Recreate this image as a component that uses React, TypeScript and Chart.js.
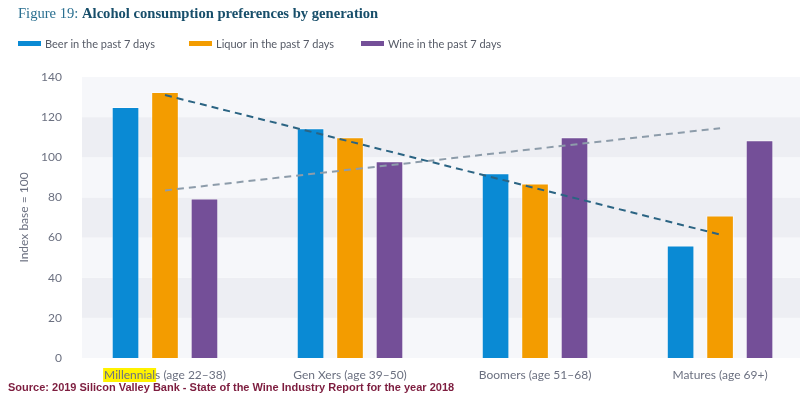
import React, { useEffect, useRef } from "react";
import { Chart, registerables } from "chart.js";

Chart.register(...registerables);

const categories = [
  "Millennials (age 22–38)",
  "Gen Xers (age 39–50)",
  "Boomers (age 51–68)",
  "Matures (age 69+)",
];
const beer = [125, 114.5, 92, 56];
const liquor = [132.5, 110, 87, 71];
const wine = [79.5, 98, 110, 108.5];
const beerTrend = [131, 61.5];
const wineTrend = [83.5, 114.5];
const trendX = [0, 3];
const yTicks = [0, 20, 40, 60, 80, 100, 120, 140];
const seriesNames = ["Beer in the past 7 days", "Liquor in the past 7 days", "Wine in the past 7 days"];
const seriesColors = ["#0a8ad4", "#f39c00", "#744f98"];

const AREA_LEFT = 82;
const AREA_TOP = 77;
const AREA_BOTTOM = 358;
const LABEL_FONT = "12px Lato, 'Open Sans', sans-serif";

const decorPlugin = {
  id: "decor",
  beforeDraw(chart: any) {
    const { ctx, chartArea } = chart;
    const y = chart.scales.y;
    ctx.save();
    // alternating bands
    for (let i = 0; i < yTicks.length - 1; i++) {
      const y0 = y.getPixelForValue(yTicks[i]);
      const y1 = y.getPixelForValue(yTicks[i + 1]);
      ctx.fillStyle = i % 2 === 0 ? "#f6f7fa" : "#edeef3";
      ctx.fillRect(chartArea.left, y1, chartArea.right - chartArea.left, y0 - y1);
    }
    // highlight behind "Millennial"
    const x = chart.scales.x;
    ctx.font = LABEL_FONT;
    const full = ctx.measureText(categories[0]).width;
    const part = ctx.measureText("Millennial").width;
    const cx = x.getPixelForValue(0);
    const sx = cx - full / 2;
    ctx.fillStyle = "#fff200";
    ctx.fillRect(sx - 1, 368, part + 2, 14);
    ctx.restore();
  },
  afterDraw(chart: any) {
    const { ctx } = chart;
    ctx.save();
    // title
    ctx.textBaseline = "middle";
    ctx.textAlign = "left";
    ctx.font = "14.6px 'Liberation Serif', serif";
    ctx.fillStyle = "#2a6f90";
    const t1 = "Figure 19: ";
    ctx.fillText(t1, 18, 14);
    const w1 = ctx.measureText(t1).width;
    ctx.font = "bold 14.6px 'Liberation Serif', serif";
    ctx.fillStyle = "#174e6a";
    ctx.fillText("Alcohol consumption preferences by generation", 18 + w1, 14);
    // legend
    const lx = [18, 189, 361];
    ctx.font = "11px Lato, 'Open Sans', sans-serif";
    for (let i = 0; i < 3; i++) {
      ctx.fillStyle = seriesColors[i];
      ctx.fillRect(lx[i], 41, 23, 5);
      ctx.fillStyle = "#555a66";
      ctx.fillText(seriesNames[i], lx[i] + 27, 44);
    }
    // source
    ctx.font = "bold 11px 'Liberation Sans', Arial, sans-serif";
    ctx.fillStyle = "#7d1d3f";
    ctx.fillText("Source: 2019 Silicon Valley Bank - State of the Wine Industry Report for the year 2018", 8, 388);
    ctx.restore();
  },
};

export default function App() {
  const ref = useRef<HTMLCanvasElement | null>(null);
  useEffect(() => {
    if (!ref.current) return;
    const barDs = (label: string, vals: number[], color: string) => ({
      type: "bar" as const,
      label,
      data: vals.map((v, i) => ({ x: i, y: v })),
      backgroundColor: color,
      borderColor: "rgba(255,255,255,0.55)",
      borderWidth: 1,
      categoryPercentage: 0.64,
      barPercentage: 0.7,
      order: 2,
    });
    const chart = new Chart(ref.current, {
      type: "bar",
      data: {
        datasets: [
          barDs(seriesNames[0], beer, seriesColors[0]),
          barDs(seriesNames[1], liquor, seriesColors[1]),
          barDs(seriesNames[2], wine, seriesColors[2]),
          {
            type: "line",
            label: "Beer trend",
            data: trendX.map((x, i) => ({ x, y: beerTrend[i] })),
            borderColor: "#2b6483",
            borderWidth: 2,
            borderDash: [7, 5],
            pointRadius: 0,
            fill: false,
            order: 1,
          },
          {
            type: "line",
            label: "Wine trend",
            data: trendX.map((x, i) => ({ x, y: wineTrend[i] })),
            borderColor: "#8d9caa",
            borderWidth: 2,
            borderDash: [7, 5],
            pointRadius: 0,
            fill: false,
            order: 1,
          },
        ] as any,
      },
      options: {
        animation: false,
        responsive: true,
        maintainAspectRatio: false,
        layout: { padding: { top: AREA_TOP, left: 0, right: 0, bottom: 0 } },
        plugins: {
          legend: { display: false },
          title: { display: false },
          tooltip: { enabled: false },
        },
        scales: {
          x: {
            type: "linear",
            offset: false,
            min: -0.4486,
            max: 3.432,
            grid: { display: false, drawTicks: false },
            border: { display: false },
            afterBuildTicks(scale: any) {
              scale.ticks = [0, 1, 2, 3].map((v) => ({ value: v }));
            },
            afterFit(scale: any) {
              scale.height = 396 - AREA_BOTTOM;
            },
            ticks: {
              autoSkip: false,
              maxRotation: 0,
              padding: 10,
              color: "#6b7080",
              font: { family: "Lato, 'Open Sans', sans-serif", size: 12 },
              callback: (v: any) => categories[v as number] ?? "",
            },
          },
          y: {
            min: 0,
            max: 140,
            grid: { display: false, drawTicks: false },
            border: { display: false },
            afterBuildTicks(scale: any) {
              scale.ticks = yTicks.map((v) => ({ value: v }));
            },
            afterFit(scale: any) {
              scale.width = AREA_LEFT;
            },
            ticks: {
              padding: 20,
              color: "#6b7080",
              font: { family: "Lato, 'Open Sans', sans-serif", size: 12 },
            },
            title: {
              display: true,
              text: "Index base = 100",
              color: "#6b7080",
              font: { family: "Lato, 'Open Sans', sans-serif", size: 12 },
              padding: { top: 17, bottom: 0 },
            },
          },
        },
      },
      plugins: [decorPlugin],
    });
    return () => chart.destroy();
  }, []);
  return (
    <div style={{ position: "fixed", left: 0, top: 0, width: 800, height: 396, background: "#ffffff" }}>
      <canvas ref={ref} />
    </div>
  );
}
